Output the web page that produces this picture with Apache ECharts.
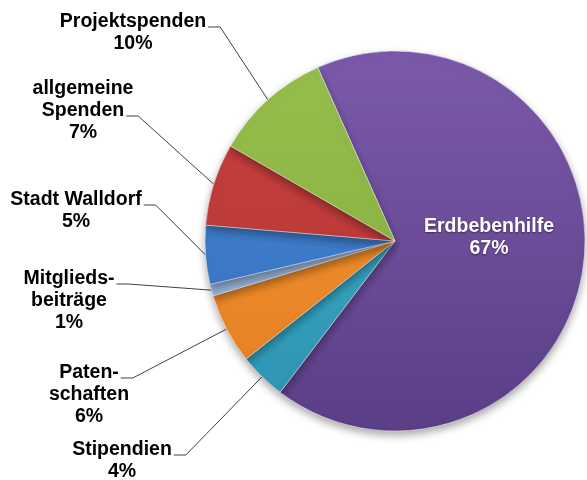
<!DOCTYPE html>
<html>
<head>
<meta charset="utf-8">
<script src="https://cdn.jsdelivr.net/npm/echarts@6/dist/echarts.min.js"></script>
<style>
  html, body { margin: 0; padding: 0; background: #fff; }
  #chart { width: 587px; height: 480px; }
</style>
</head>
<body>
<div id="chart"></div>
<script>
// slices clockwise, starting with the big purple one
const categories = ['Erdbebenhilfe', 'Stipendien', 'Paten-\nschaften', 'Mitglieds-\nbeiträge', 'Stadt Walldorf', 'allgemeine\nSpenden', 'Projektspenden']
const shares = [67, 4, 6, 1, 5, 7, 10]
const sliceColors = [
  ['#7b5aab', '#5a3e86'],
  ['#3fb0cc', '#2d93b0'],
  ['#f5952f', '#e47f24'],
  ['#a5bfe2', '#8aa7d0'],
  ['#4584d2', '#3470bd'],
  ['#c8413f', '#b13533'],
  ['#97bf4d', '#84ac3e']
]

const CX = 395, CY = 241, R = 190, START = 114
const FONT_SIZE = 19.5, LINE_H = 22
const FONT = 'Liberation Sans, Arial, sans-serif'

// label block center x, center y, and which text line the leader starts from
const labelPos = {
  0: [489, 238, 0],
  1: [122, 461, 0],
  2: [89, 395, 0],
  3: [69, 301, 0],
  4: [76, 211, 0],
  5: [83, 111, 1],
  6: [133, 33, 0]
}

const total = shares.reduce(function (a, b) { return a + b }, 0)
const measure = document.createElement('canvas').getContext('2d')
measure.font = 'bold ' + FONT_SIZE + 'px ' + FONT

// leader line: from the middle of the slice's arc to the end of one label line
function leader(idx) {
  let before = 0
  for (let k = 0; k < idx; k++) before += shares[k]
  const ang = (START - (before + shares[idx] / 2) / total * 360) * Math.PI / 180
  const ax = CX + R * Math.cos(ang)
  const ay = CY - R * Math.sin(ang)
  const p = labelPos[idx]
  const lines = categories[idx].split('\n').concat(['x'])
  const w = measure.measureText(lines[p[2]]).width
  const xr = p[0] + w / 2 + 2
  const yl = p[1] - lines.length * LINE_H / 2 + LINE_H * (p[2] + 0.5) + 5
  return [[ax, ay], [xr + 12, yl], [xr, yl]]
}

const chart = echarts.init(document.getElementById('chart'))

const data = categories.map(function (name, i) {
  const item = {
    name: name,
    value: shares[i],
    itemStyle: {
      color: {
        type: 'linear', x: 0, y: 50, x2: 0, y2: 430, global: true,
        colorStops: [
          { offset: 0, color: sliceColors[i][0] },
          { offset: 1, color: sliceColors[i][1] }
        ]
      }
    }
  }
  if (i === 0) {
    item.label = {
      position: 'inside',
      color: '#fff',
      textShadowColor: 'rgba(0,0,0,0.45)',
      textShadowBlur: 2,
      textShadowOffsetY: 1
    }
    item.labelLine = { show: false }
  }
  return item
})

chart.setOption({
  animation: false,
  series: [{
    type: 'pie',
    center: [CX, CY],
    radius: R,
    startAngle: START,
    clockwise: true,
    avoidLabelOverlap: false,
    itemStyle: {
      borderColor: 'rgba(255,255,255,0.45)',
      borderWidth: 1,
      shadowColor: 'rgba(0,0,0,0.35)',
      shadowBlur: 8,
      shadowOffsetY: 4
    },
    label: {
      show: true,
      position: 'outside',
      formatter: '{b}\n{d}%',
      fontFamily: FONT,
      fontWeight: 'bold',
      fontSize: FONT_SIZE,
      lineHeight: LINE_H,
      color: '#000',
      align: 'center'
    },
    labelLine: {
      show: true,
      length: 15,
      length2: 12,
      lineStyle: { color: '#404040', width: 1 }
    },
    labelLayout: function (params) {
      const i = params.dataIndex
      const p = labelPos[i]
      const out = { x: p[0], y: p[1], align: 'center', verticalAlign: 'middle' }
      if (i !== 0) out.labelLinePoints = leader(i)
      return out
    },
    emphasis: { disabled: true },
    data: data
  }]
})
</script>
</body>
</html>
